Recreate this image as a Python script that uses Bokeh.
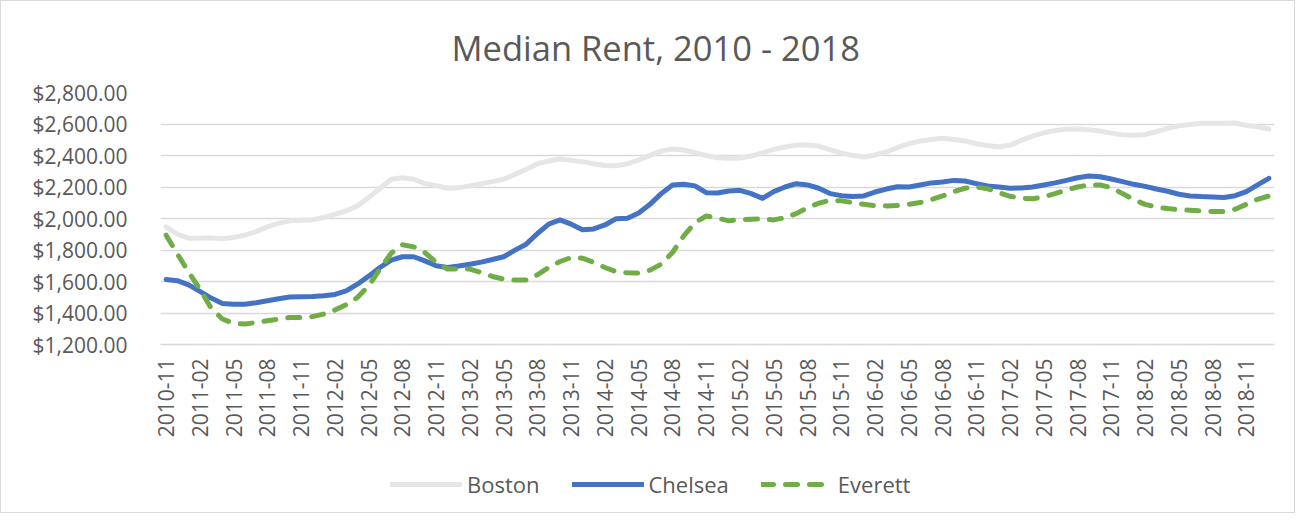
from math import pi
from bokeh.plotting import figure
from bokeh.layouts import column
from bokeh.models import (Range1d, FixedTicker, NumeralTickFormatter, Legend,
                          LegendItem, ColumnDataSource)
from bokeh.embed import file_html
from bokeh.resources import INLINE

# ---------------- data ----------------
months = [f"{2010 + (10 + k) // 12}-{(10 + k) % 12 + 1:02d}" for k in range(99)]
tick_positions = list(range(0, 99, 3))
tick_labels = [months[i] for i in tick_positions]
y_ticks = [1200, 1400, 1600, 1800, 2000, 2200, 2400, 2600, 2800]

boston = [1947, 1900, 1875, 1875, 1877, 1871, 1880, 1894, 1917, 1947,
          1970, 1985, 1989, 1991, 2006, 2027, 2048, 2080, 2133, 2190,
          2249, 2259, 2249, 2221, 2209, 2192, 2196, 2207, 2221, 2234,
          2249, 2280, 2312, 2348, 2365, 2378, 2369, 2361, 2348, 2337,
          2335, 2348, 2371, 2401, 2428, 2441, 2435, 2418, 2399, 2386,
          2382, 2384, 2397, 2416, 2439, 2454, 2466, 2466, 2460, 2437,
          2416, 2401, 2390, 2403, 2422, 2450, 2475, 2492, 2502, 2509,
          2502, 2492, 2475, 2463, 2454, 2466, 2496, 2523, 2544, 2559,
          2566, 2568, 2563, 2555, 2542, 2532, 2528, 2534, 2551, 2572,
          2589, 2597, 2604, 2604, 2604, 2606, 2591, 2582, 2568]

chelsea = [1613, 1605, 1579, 1537, 1495, 1461, 1455, 1455, 1465, 1478,
           1491, 1501, 1503, 1505, 1510, 1518, 1541, 1583, 1634, 1689,
           1736, 1757, 1757, 1731, 1700, 1689, 1698, 1710, 1723, 1740,
           1757, 1799, 1837, 1905, 1964, 1991, 1964, 1928, 1934, 1959,
           1999, 2002, 2035, 2090, 2158, 2213, 2217, 2207, 2164, 2162,
           2175, 2179, 2158, 2128, 2171, 2200, 2221, 2213, 2192, 2158,
           2145, 2139, 2143, 2168, 2187, 2202, 2200, 2213, 2226, 2232,
           2242, 2238, 2221, 2207, 2200, 2192, 2194, 2200, 2213, 2226,
           2242, 2259, 2270, 2265, 2251, 2234, 2217, 2204, 2187, 2173,
           2154, 2143, 2139, 2137, 2133, 2145, 2171, 2213, 2255]

everett = [1894, 1775, 1660, 1552, 1431, 1362, 1334, 1330, 1339, 1351,
           1362, 1372, 1372, 1377, 1393, 1419, 1453, 1499, 1573, 1679,
           1780, 1833, 1820, 1784, 1721, 1679, 1679, 1679, 1657, 1632,
           1615, 1609, 1609, 1643, 1689, 1727, 1752, 1748, 1721, 1689,
           1662, 1655, 1653, 1672, 1710, 1784, 1890, 1974, 2016, 2002,
           1985, 1993, 1995, 1997, 1991, 2006, 2031, 2069, 2097, 2116,
           2112, 2101, 2090, 2082, 2080, 2082, 2090, 2101, 2120, 2143,
           2171, 2192, 2200, 2189, 2164, 2141, 2128, 2126, 2137, 2158,
           2181, 2200, 2213, 2213, 2196, 2158, 2120, 2090, 2073, 2063,
           2057, 2052, 2048, 2044, 2044, 2059, 2090, 2122, 2143]

series_names = ["Boston", "Chelsea", "Everett"]
series_colors = ["#E7E6E6", "#4472C4", "#70AD47"]
series_dash = ["solid", "solid", "12 12"]

# ---------------- main figure ----------------
FONT = "Open Sans"
TEXT = "#595959"
LW = 5

p = figure(width=1293, height=457, output_backend="svg", toolbar_location=None,
           x_range=Range1d(-0.5, len(months) - 0.5), y_range=Range1d(1200, 2800),
           min_border_left=159, min_border_right=20, min_border_top=91,
           min_border_bottom=114)
p.outline_line_color = None
p.background_fill_color = "white"
p.border_fill_color = "white"

# title
p.title.text = "Median Rent, 2010 - 2018"
p.title.align = "left"
p.title.offset = 291
p.title.standoff = 40
p.title.vertical_align = "top"
p.title.text_font = FONT
p.title.text_font_style = "normal"
p.title.text_font_size = "34.5px"
p.title.text_color = TEXT

src = ColumnDataSource(dict(x=list(range(len(months))), month=months,
                            boston=boston, chelsea=chelsea, everett=everett))

for col, color, dash in zip(["boston", "chelsea", "everett"], series_colors, series_dash):
    p.line("x", col, source=src, line_color=color, line_width=LW, line_dash=dash,
           line_cap="round", line_join="round")

# grid
p.xgrid.visible = False
p.ygrid.ticker = FixedTicker(ticks=y_ticks)
p.ygrid.grid_line_color = "#D9D9D9"
p.ygrid.grid_line_width = 1.3

# y axis
ya = p.yaxis[0]
ya.ticker = FixedTicker(ticks=y_ticks)
ya.formatter = NumeralTickFormatter(format="$0,0.00")
ya.axis_line_color = None
ya.major_tick_line_color = None
ya.minor_tick_line_color = None
ya.major_label_text_font = FONT
ya.major_label_text_font_size = "21px"
ya.major_label_text_color = TEXT
ya.major_label_standoff = 27

# x axis
xa = p.xaxis[0]
xa.ticker = FixedTicker(ticks=tick_positions)
xa.major_label_overrides = {i: lab for i, lab in zip(tick_positions, tick_labels)}
xa.major_label_orientation = pi / 2
xa.axis_line_color = "#D9D9D9"
xa.axis_line_width = 1.3
xa.major_tick_line_color = None
xa.minor_tick_line_color = None
xa.major_label_text_font = FONT
xa.major_label_text_font_size = "21px"
xa.major_label_text_color = TEXT
xa.major_label_standoff = 8

# ---------------- legend strip ----------------
leg = figure(width=1293, height=54, output_backend="svg", toolbar_location=None,
             x_axis_type=None, y_axis_type=None, x_range=Range1d(0, 1),
             y_range=Range1d(0, 1), min_border_left=159, min_border_right=20,
             min_border_top=0, min_border_bottom=0)
leg.outline_line_color = None
leg.xgrid.visible = False
leg.ygrid.visible = False
leg.background_fill_color = "white"
leg.border_fill_color = "white"

items = []
for name, color, dash in zip(series_names, series_colors, series_dash):
    # off-range stub renderer so the legend can draw each series' line style
    stub = ColumnDataSource(dict(x=[-10, -9], y=[-10, -10]))
    r = leg.line("x", "y", source=stub, line_color=color, line_width=LW,
                 line_dash=dash, line_cap="round", line_join="round")
    items.append(LegendItem(label=name, renderers=[r]))

legend = Legend(items=items, location=(230, 13), orientation="horizontal",
                glyph_width=72, glyph_height=26, label_height=26,
                label_standoff=5, spacing=32, padding=0, margin=0,
                border_line_color=None, background_fill_alpha=0,
                label_text_font=FONT, label_text_font_size="22px",
                label_text_color=TEXT)
leg.add_layout(legend, "center")

layout = column(p, leg, spacing=0, styles={"border": "1px solid #D9D9D9"})
open("out.html", "w").write(file_html(layout, INLINE))
